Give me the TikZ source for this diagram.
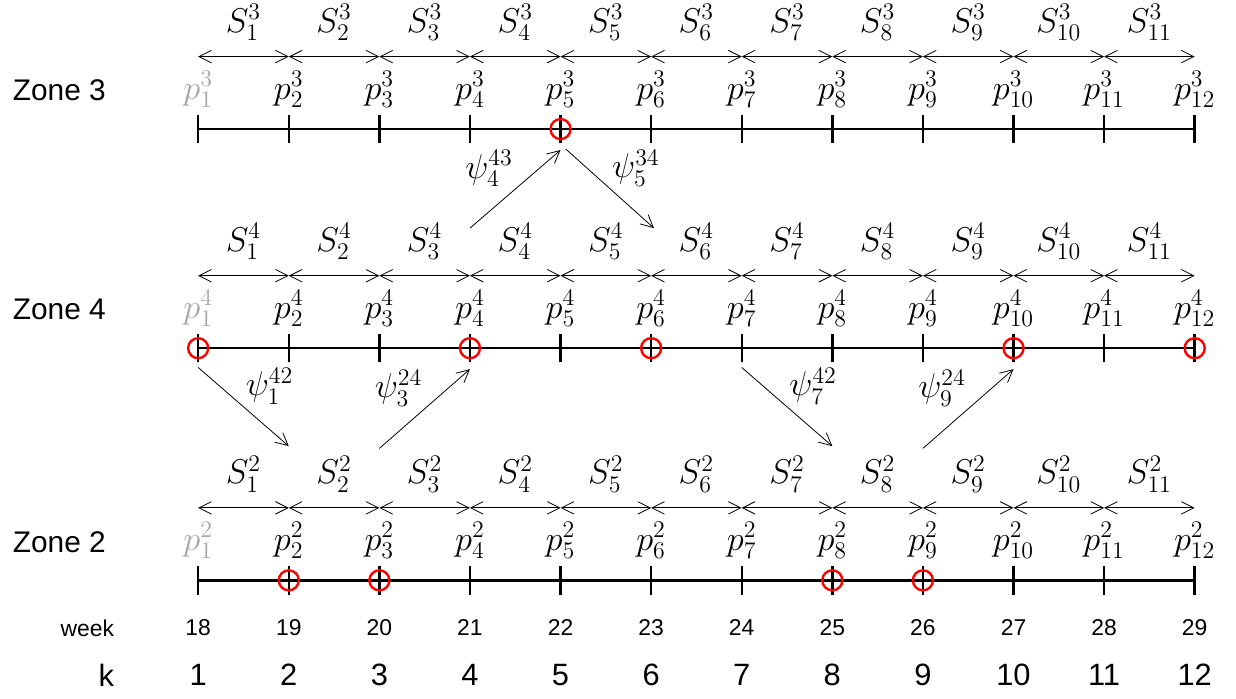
\documentclass[tikz,border=0pt]{standalone}
\usepackage{amsmath}
\usepackage{fontspec}
\setmainfont{Liberation Sans}
\usetikzlibrary{calc,arrows.meta}

\begin{document}
\begin{tikzpicture}[
  axis/.style={line width=1.2pt},
  hit/.style={red, line width=1.2pt},
  span/.style={{Straight Barb[length=2.2mm,width=2.2mm]}-{Straight Barb[length=2.2mm,width=2.2mm]}},
  jump/.style={-{Straight Barb[length=2.2mm,width=2.2mm]}},
  mlab/.style={font=\fontsize{16.5}{19}\selectfont, inner sep=1pt},
  zlab/.style={font=\fontsize{15}{18}\selectfont, anchor=west, inner sep=0pt},
  wlab/.style={font=\fontsize{11.5}{14}\selectfont, inner sep=1pt},
  klab/.style={font=\fontsize{15.5}{18}\selectfont, inner sep=1pt},
]
\useasboundingbox (-3.5,0) rectangle (18.33,12.33);

% the three zones
\foreach \z/\y in {3/10.05, 4/6.18, 2/2.08} {
  \node[zlab] (zone\z) at (-3.28,\y+0.68) {Zone \z};
  \draw[axis] (0,\y) -- (17.6,\y);
  \foreach \k in {1,...,12} {
    \coordinate (t\z-\k) at ({1.6*(\k-1)},\y);
    \draw[axis] ($(t\z-\k)+(0,-0.25)$) -- ($(t\z-\k)+(0,0.25)$);
    \coordinate (a\z-\k) at ($(t\z-\k)+(0,1.28)$);
  }
  \node[mlab, black!35] (p\z-1) at ($(t\z-1)+(0,0.7)$) {$p^{\z}_{1}$};
  \foreach \k in {2,...,12}
    \node[mlab] (p\z-\k) at ($(t\z-\k)+(0,0.7)$) {$p^{\z}_{\k}$};
  \foreach \k [count=\j from 2] in {1,...,11}
    \draw[span] (a\z-\k) -- (a\z-\j) node[midway, yshift=0.6cm, mlab] (S\z-\k) {$S^{\z}_{\k}$};
}

% transfers between zones
\draw[jump] ($(t3-4)+(0,-1.75)$) -- ($(t3-5)+(0,-0.37)$)
  node[midway, above left, mlab] (psi43) {$\psi^{43}_{4}$};
\draw[jump] ($(t3-5)+(0.09,-0.35)$) -- ($(t3-6)+(0.05,-1.75)$)
  node[midway, above right, mlab] (psi34) {$\psi^{34}_{5}$};
\foreach \a/\b in {1/2, 7/8}
  \draw[jump] ($(t4-\a)+(0,-0.34)$) -- ($(t4-\b)+(0,-1.73)$)
    node[midway, above right, mlab] (psi42-\a) {$\psi^{42}_{\a}$};
\foreach \a/\b in {3/4, 9/10}
  \draw[jump] ($(t4-\a)+(0,-1.77)$) -- ($(t4-\b)+(0,-0.37)$)
    node[midway, above left, mlab] (psi24-\a) {$\psi^{24}_{\a}$};

% selected weeks
\foreach \z/\k in {3/5, 4/1, 4/4, 4/6, 4/10, 4/12, 2/2, 2/3, 2/8, 2/9}
  \draw[hit] (t\z-\k) circle (0.177);

% week and k rows
\node[wlab, anchor=east, inner sep=0pt] (week) at (-1.48,1.24) {week};
\node[klab, anchor=east, inner sep=0pt] (kk) at (-1.48,0.41) {k};
\foreach \k [evaluate=\k as \w using int(\k+17)] in {1,...,12} {
  \node[wlab] (w\k) at ({1.6*(\k-1)},1.24) {\w};
  \node[klab] (k\k) at ({1.6*(\k-1)},0.41) {\k};
}
\end{tikzpicture}
\end{document}
